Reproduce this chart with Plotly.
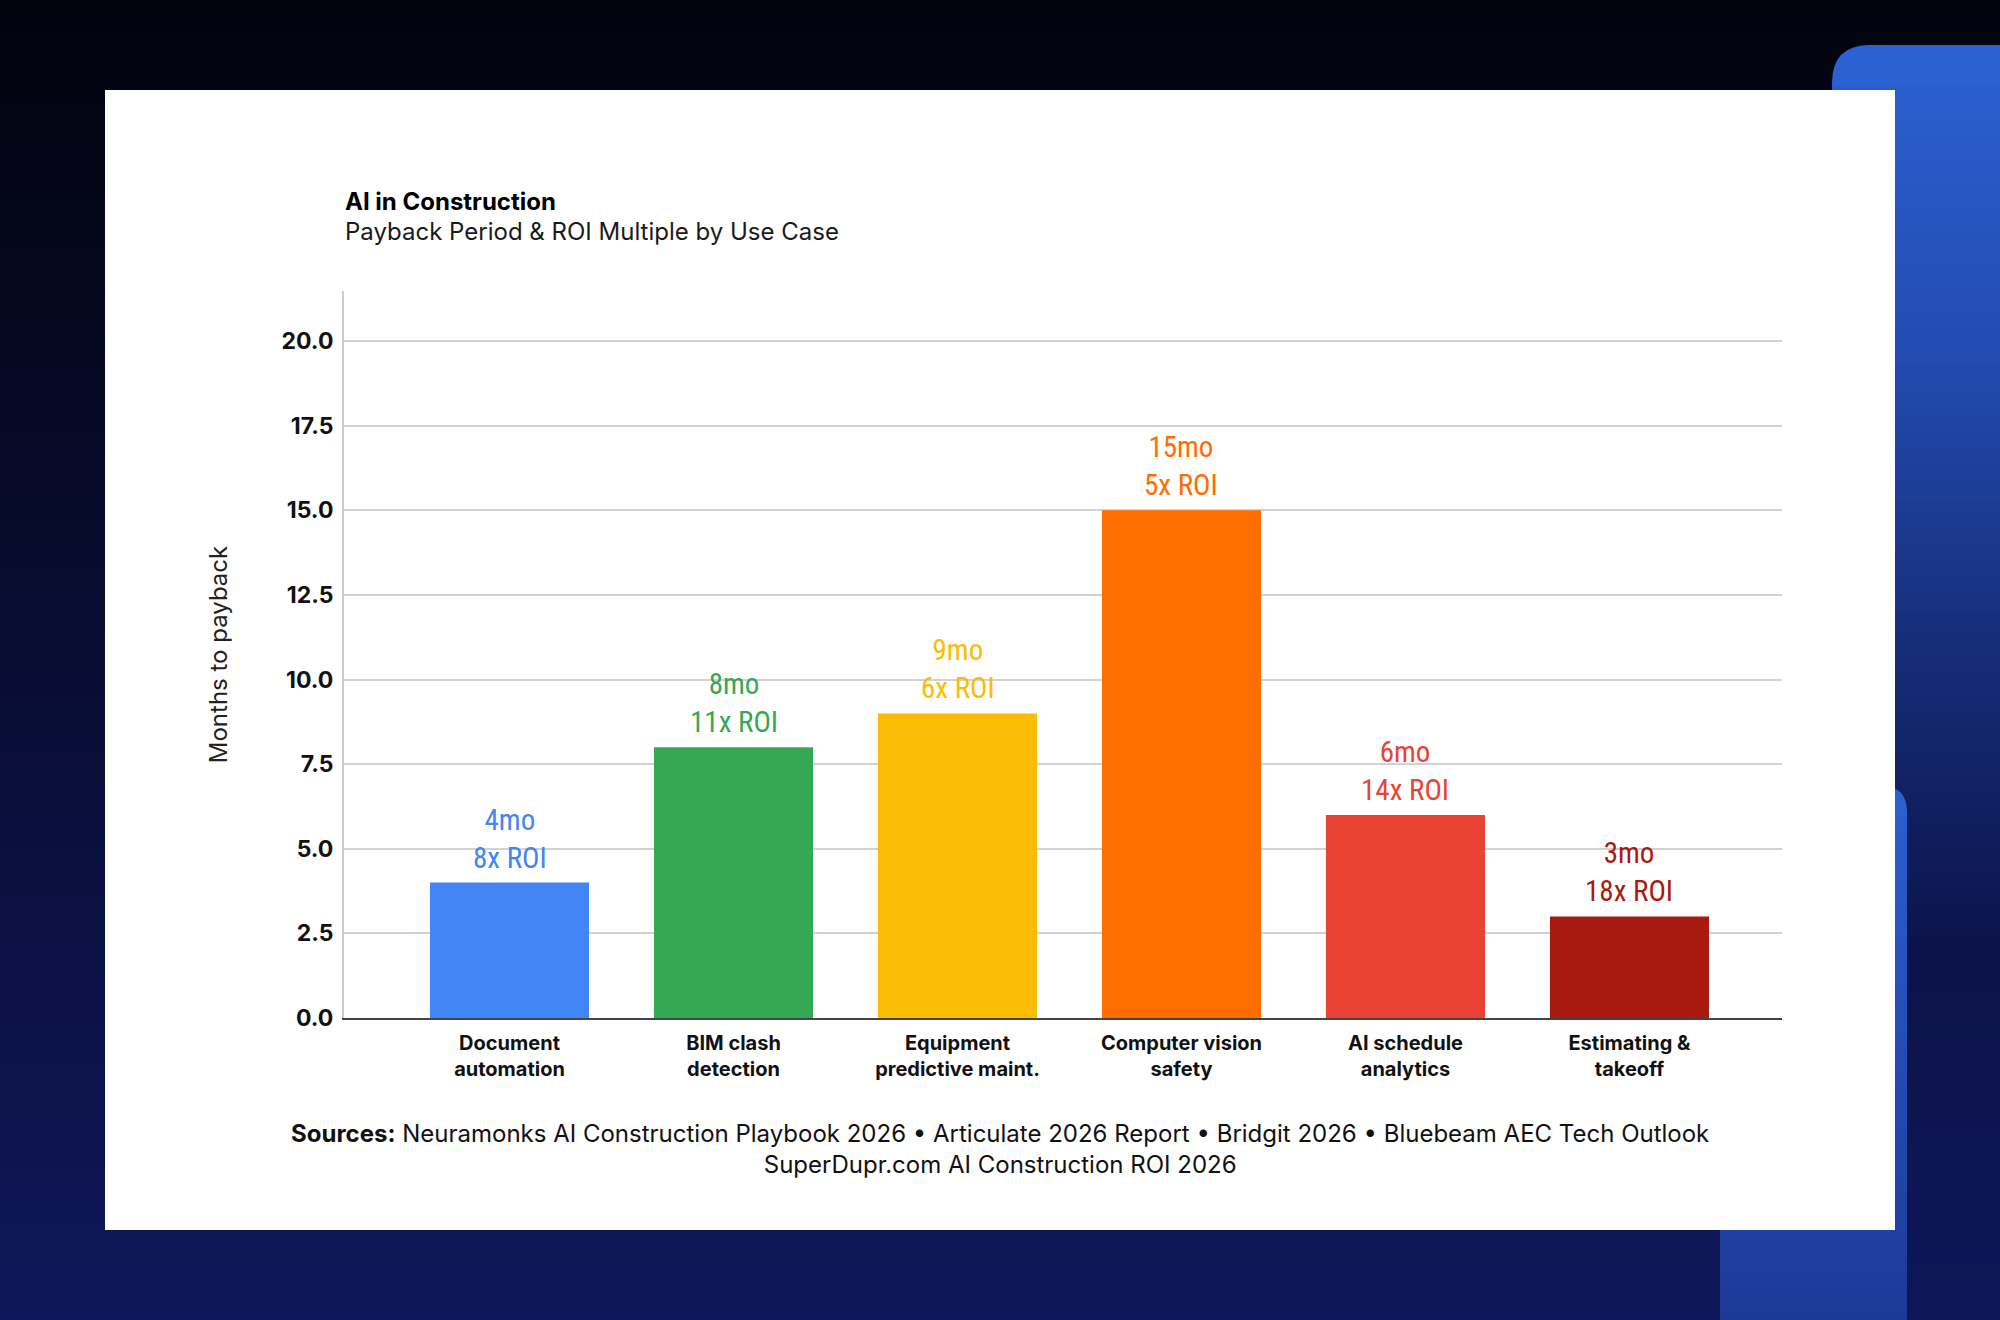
import plotly.graph_objects as go

# ---------------- data ----------------
categories = [
    "Document<br>automation",
    "BIM clash<br>detection",
    "Equipment<br>predictive maint.",
    "Computer vision<br>safety",
    "AI schedule<br>analytics",
    "Estimating &<br>takeoff",
]
payback_months = [4, 8, 9, 15, 6, 3]
roi_multiple = [8, 11, 6, 5, 14, 18]
bar_colors = ["#4285F4", "#34A853", "#FBBC04", "#FF6D01", "#EA4335", "#A81A10"]
y_tick_values = [0, 2.5, 5, 7.5, 10, 12.5, 15, 17.5, 20]

title_text = "AI in Construction"
subtitle_text = "Payback Period & ROI Multiple by Use Case"
y_title = "Months to payback"
sources_text = ("<b>Sources:</b> Neuramonks AI Construction Playbook 2026 \u2022 Articulate 2026 Report "
                "\u2022 Bridgit 2026 \u2022 Bluebeam AEC Tech Outlook<br>SuperDupr.com AI Construction ROI 2026")

# ---------------- geometry ----------------
W, H = 2000, 1320
ML, MR, MT, MB = 344, 218, 291, 302
PW, PH = W - ML - MR, H - MT - MB


def px(x):
    return (x - ML) / PW


def py(y):
    return (H - MB - y) / PH


def lerp(c1, c2, t):
    return tuple(round(a + (b - a) * t) for a, b in zip(c1, c2))


def grad(y, stops):
    if y <= stops[0][0]:
        return stops[0][1]
    for (y0, c0), (y1, c1) in zip(stops, stops[1:]):
        if y0 <= y <= y1:
            return lerp(c0, c1, (y - y0) / (y1 - y0))
    return stops[-1][1]


def rgb(c):
    return "rgb(%d,%d,%d)" % c


shapes = []


def rect(x0, y0, x1, y1, color):
    shapes.append(dict(type="rect", xref="paper", yref="paper", layer="below",
                       x0=px(x0), x1=px(x1), y0=py(y1), y1=py(y0),
                       fillcolor=color, line=dict(width=0)))


def rounded_top(x0, y0, x1, y1, r, color):
    p = (f"M {px(x0)},{py(y1)} L {px(x0)},{py(y0 + r)} "
         f"Q {px(x0)},{py(y0)} {px(x0 + r)},{py(y0)} "
         f"L {px(x1 - r)},{py(y0)} Q {px(x1)},{py(y0)} {px(x1)},{py(y0 + r)} "
         f"L {px(x1)},{py(y1)} Z")
    shapes.append(dict(type="path", xref="paper", yref="paper", layer="below",
                       path=p, fillcolor=color, line=dict(width=0)))


# background gradient
bg_stops = [(0, (2, 3, 13)), (600, (8, 12, 48)), (1320, (15, 23, 90))]
step = 8
for y in range(0, H, step):
    rect(-5, y, W + 5, y + step + 1, rgb(grad(y + step / 2, bg_stops)))

# big blue rounded panel (right)
big_stops = [(45, (44, 97, 210)), (350, (35, 76, 178)), (650, (22, 45, 120)),
             (950, (12, 19, 75)), (1320, (14, 22, 88))]
rounded_top(1832, 45, 2040, H + 5, 38, rgb(big_stops[0][1]))
for y in range(85, H, step):
    rect(1832, y, 2040, y + step + 1, rgb(grad(y + step / 2, big_stops)))

# small blue panel behind card
small_stops = [(786, (44, 95, 208)), (1320, (29, 57, 152))]
rounded_top(1720, 786, 1907, H + 5, 26, rgb(small_stops[0][1]))
for y in range(816, H, step):
    rect(1720, y, 1907, y + step + 1, rgb(grad(y + step / 2, small_stops)))

# white card
rect(105, 90, 1895, 1230, "white")

# ---------------- figure ----------------
fig = go.Figure()
fig.add_trace(go.Bar(
    x=categories, y=payback_months, width=0.71,
    marker=dict(color=bar_colors, line=dict(width=0)),
    hoverinfo="skip", showlegend=False,
))

label_font = "Liberation Sans Narrow, Roboto Condensed, DejaVu Sans Condensed, Arial Narrow, sans-serif"
annotations = []
for cat, m, r, c in zip(categories, payback_months, roi_multiple, bar_colors):
    annotations.append(dict(
        x=cat, y=m, xref="x", yref="y", text=f"{m}mo<br>{r}x ROI",
        showarrow=False, yanchor="bottom", yshift=6,
        font=dict(family=label_font, size=29, color=c),
    ))

annotations.append(dict(x=px(343), y=py(201), xref="paper", yref="paper", xanchor="left",
                        yanchor="middle", showarrow=False, text=f"<b>{title_text}</b>",
                        font=dict(family="Inter", size=24, color="#000000")))
annotations.append(dict(x=px(343), y=py(232), xref="paper", yref="paper", xanchor="left",
                        yanchor="middle", showarrow=False, text=subtitle_text,
                        font=dict(family="Inter", size=24, color="#1a1a1a")))
annotations.append(dict(x=px(1000), y=py(1149), xref="paper", yref="paper", xanchor="center",
                        yanchor="middle", showarrow=False, text=sources_text, align="center",
                        font=dict(family="Inter", size=24, color="#111111")))

fig.update_layout(
    width=W, height=H,
    margin=dict(l=ML, r=MR, t=MT, b=MB, pad=0),
    paper_bgcolor="rgb(10,15,60)",
    plot_bgcolor="rgba(0,0,0,0)",
    shapes=shapes,
    annotations=annotations,
    bargap=0.29,
    xaxis=dict(
        type="category", range=[-0.739, 5.681],
        showgrid=False, zeroline=False,
        showline=True, linecolor="#444444", linewidth=2,
        tickfont=dict(family="Inter", size=20, color="#111111", weight="bold"),
        ticks="", ticklabelstandoff=6,
    ),
    yaxis=dict(
        range=[0, 21.48], tickvals=y_tick_values, tickformat=".1f",
        showgrid=True, gridcolor="#d2d2d2", gridwidth=2,
        zeroline=False, showline=True, linecolor="#cccccc", linewidth=2,
        tickfont=dict(family="Inter", size=23, color="#111111", weight="bold"),
        ticks="", ticklabelstandoff=4,
        title=dict(text=y_title, standoff=47,
                   font=dict(family="Inter", size=24, color="#222222")),
    ),
)

fig.write_html("out.html")
